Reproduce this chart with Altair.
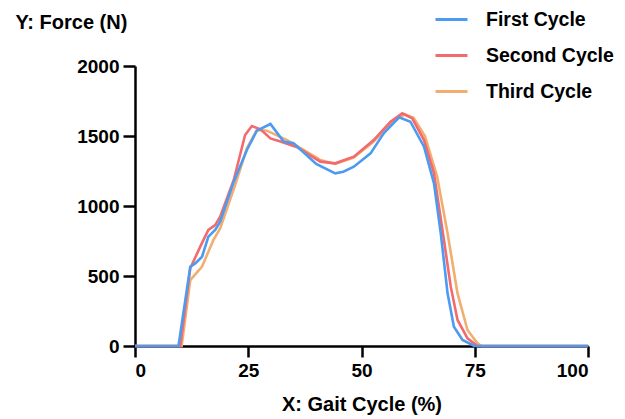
import altair as alt
import pandas as pd

series_names = ["First Cycle", "Second Cycle", "Third Cycle"]
series_colors = ["#4C9BF0", "#F26A6E", "#F2AE70"]

first_x = [0, 9.6, 12.2, 13.3, 14.8, 16.2, 17.7, 18.8, 21.8, 24.7, 26.9, 29.9, 32.8, 35, 40, 44.2, 46, 48.3, 52, 54.9, 58.3, 60.8, 63.8, 66, 67.5, 69, 70.4, 72.3, 74.9, 100]
first_y = [0, 0, 566, 590, 638, 781, 829, 888, 1174, 1400, 1538, 1586, 1460, 1448, 1300, 1233, 1245, 1281, 1376, 1519, 1633, 1602, 1424, 1162, 805, 376, 138, 43, 0, 0]

second_x = [0, 10, 12.2, 14.4, 16.2, 17.7, 18.8, 21.8, 24.3, 25.8, 27.7, 29.9, 32.1, 35.8, 40.9, 44.2, 48.3, 52.7, 56.4, 59, 61.2, 63.8, 66, 68.2, 69.7, 71.2, 73.4, 75.6, 100]
second_y = [0, 0, 555, 710, 829, 864, 924, 1186, 1507, 1571, 1548, 1483, 1460, 1420, 1317, 1305, 1352, 1471, 1602, 1662, 1626, 1471, 1233, 757, 424, 186, 55, 0, 0]

third_x = [0, 10.3, 12.2, 14.8, 17.3, 18.8, 22.1, 24.7, 26.9, 29.1, 33.6, 40.9, 44.2, 48.3, 52.7, 56.4, 59.5, 61.5, 64, 66.7, 69, 71.2, 73.4, 75.6, 76.5, 100]
third_y = [0, 0, 471, 567, 757, 840, 1150, 1412, 1543, 1538, 1471, 1329, 1300, 1345, 1460, 1590, 1655, 1630, 1500, 1210, 805, 376, 114, 20, 0, 0]

x_ticks = [0, 25, 50, 75, 100]
y_ticks = [0, 500, 1000, 1500, 2000]

rows = []
# draw order: third first, blue last (on top)
for name, xs, ys in [("Third Cycle", third_x, third_y),
                     ("Second Cycle", second_x, second_y),
                     ("First Cycle", first_x, first_y)]:
    for i, (xv, yv) in enumerate(zip(xs, ys)):
        rows.append({"series": name, "x": xv, "y": yv, "i": i})
df = pd.DataFrame(rows)

FONT = "Liberation Sans"

chart = alt.Chart(df).mark_line(strokeWidth=2.6).encode(
    x=alt.X("x:Q",
            scale=alt.Scale(domain=[0, 100], nice=False),
            axis=alt.Axis(values=x_ticks, title="X: Gait Cycle (%)", grid=False,
                          tickSize=11, tickWidth=2.5, domainWidth=2.5,
                          domainColor="black", tickColor="black",
                          labelFont=FONT, labelFontSize=19, labelFontWeight="bold",
                          labelColor="black", labelPadding=4,
                          titleFont=FONT, titleFontSize=20, titleFontWeight="bold",
                          titleColor="black", titleY=64, titleBaseline="alphabetic")),
    y=alt.Y("y:Q",
            scale=alt.Scale(domain=[0, 2000], nice=False),
            axis=alt.Axis(values=y_ticks, title="Y: Force (N)", grid=False, format="d",
                          tickSize=12, tickWidth=2.5, domainWidth=2.5,
                          domainColor="black", tickColor="black",
                          labelFont=FONT, labelFontSize=19, labelFontWeight="bold",
                          labelColor="black", labelPadding=4,
                          titleFont=FONT, titleFontSize=20, titleFontWeight="bold",
                          titleColor="black", titleAngle=0, titleAlign="left",
                          titleBaseline="middle", titleX=-120, titleY=-44)),
    color=alt.Color("series:N",
                    scale=alt.Scale(domain=series_names, range=series_colors),
                    legend=alt.Legend(title=None, orient="none", legendX=299, legendY=-64,
                                      symbolType="stroke", symbolSize=1024,
                                      symbolStrokeWidth=3, rowPadding=9,
                                      labelFont=FONT, labelFontSize=19.5,
                                      labelFontWeight="bold", labelColor="black",
                                      labelOffset=17, padding=0)),
    detail="series:N",
    order="i:Q",
).properties(
    width=453, height=280,
    autosize=alt.AutoSizeParams(type="none"),
    padding={"left": 127, "top": 58, "right": 29, "bottom": 69},
).configure_view(stroke=None)

chart.save("out.html", embed_options={"renderer": "svg", "actions": False})
